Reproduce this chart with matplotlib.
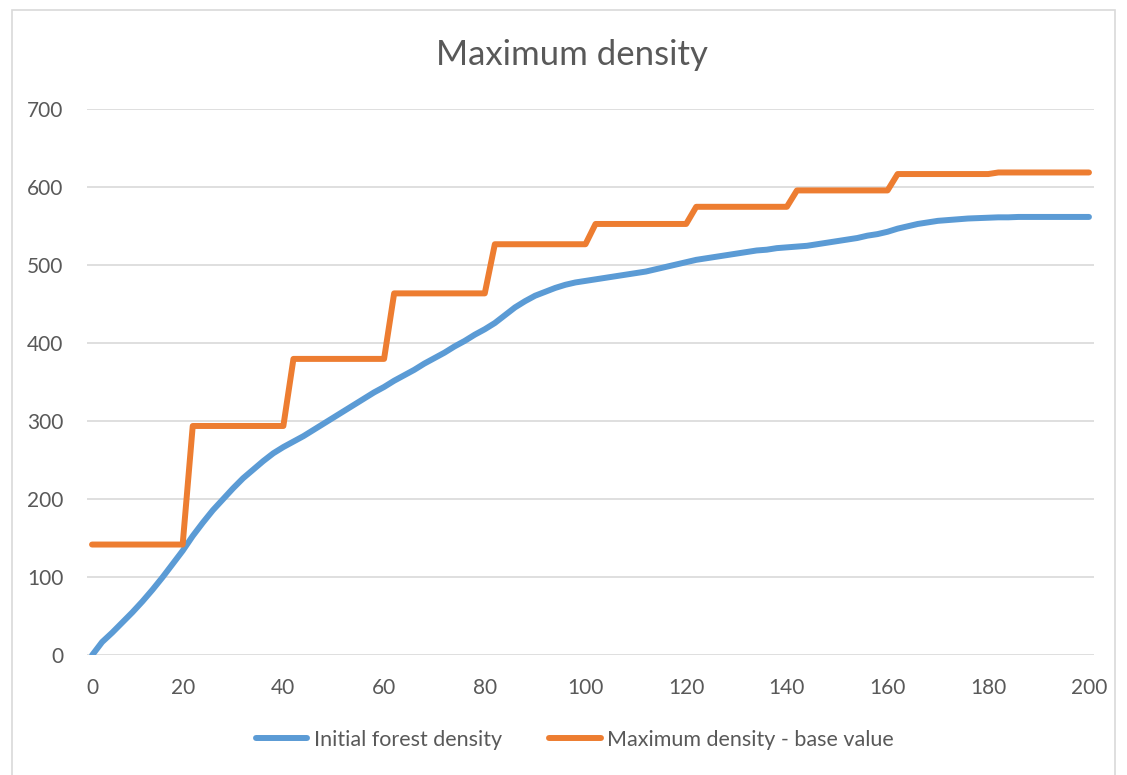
import matplotlib
matplotlib.use("Agg")
import matplotlib.pyplot as plt
from matplotlib.patches import Rectangle
import numpy as np

plt.rcParams['font.family'] = ['Lato', 'DejaVu Sans']

# category labels shown on the x axis and their category positions
x_tick_labels = ["0", "20", "40", "60", "80", "100", "120", "140", "160", "180", "200"]
x_tick_index = [0, 9, 19, 29, 39, 49, 59, 69, 79, 89, 99]

initial_forest_density = [
    0, 17, 29, 42, 55, 69, 84, 100, 117, 134,
    153, 170, 186, 200, 214, 227, 238, 249, 259, 267,
    274, 281, 289, 297, 305, 313, 321, 329, 337, 344,
    352, 359, 366, 374, 381, 388, 396, 403, 411, 418,
    426, 436, 446, 454, 461, 466, 471, 475, 478, 480,
    482, 484, 486, 488, 490, 492, 495, 498, 501, 504,
    507, 509, 511, 513, 515, 517, 519, 520, 522, 523,
    524, 525, 527, 529, 531, 533, 535, 538, 540, 543,
    547, 550, 553, 555, 557, 558, 559, 560, 560.5, 561,
    561.5, 561.5, 562, 562, 562, 562, 562, 562, 562, 562,
]

max_density_base = (
    [142] * 10 + [294] * 10 + [380] * 10 + [464] * 10 + [527] * 10 +
    [553] * 10 + [575] * 10 + [596] * 10 + [617] * 10 + [619] * 10
)

W, H = 1127, 775
fig = plt.figure(figsize=(W / 100, H / 100), dpi=100)
fig.patch.set_facecolor("white")

left, right, top, bottom = 87, 1094, 109.3, 655.3
ax = fig.add_axes([left / W, 1 - bottom / H, (right - left) / W, (bottom - top) / H])

idx = np.arange(len(initial_forest_density))
ax.plot(idx, initial_forest_density, color="#5B9BD5", lw=4.3, solid_capstyle="round",
        solid_joinstyle="round", label="Initial forest density", zorder=3)
ax.plot(idx, max_density_base, color="#ED7D31", lw=4.3, solid_capstyle="round",
        solid_joinstyle="round", label="Maximum density - base value", zorder=3)

ax.set_xlim(-0.5, len(idx) - 0.5)
ax.set_ylim(0, 700)
ax.set_yticks(range(0, 701, 100))
ax.set_xticks(x_tick_index)
ax.set_xticklabels(x_tick_labels)

for s in ax.spines.values():
    s.set_visible(False)
ax.grid(axis="y", color="#D9D9D9", lw=1.2, zorder=0)
ax.set_axisbelow(True)
ax.tick_params(axis="both", length=0, labelsize=15, labelcolor="#595959")
ax.tick_params(axis="y", pad=17)
ax.tick_params(axis="x", pad=16)

fig.text(572 / W, 1 - 55 / H, "Maximum density", ha="center", va="center",
         fontsize=25, color="#595959")

fig.legend(loc="center", bbox_to_anchor=(575 / W, 1 - 740 / H), ncol=2, frameon=False,
           fontsize=15.5, labelcolor="#595959", handlelength=2.4, handletextpad=0.3,
           columnspacing=2.2)

fig.patches.append(Rectangle((12 / W, -0.05), (1115 - 12) / W, 1.05 - 10 / H,
                             transform=fig.transFigure, fill=False,
                             edgecolor="#D9D9D9", lw=1.2))

fig.savefig("out.png", dpi=100, facecolor="white")
